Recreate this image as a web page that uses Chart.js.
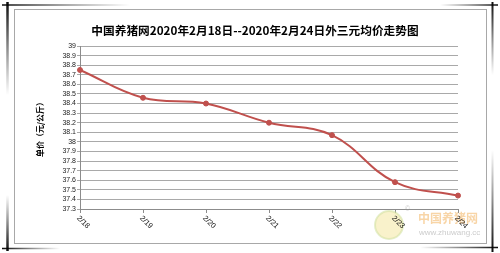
<!DOCTYPE html>
<html>
<head>
<meta charset="utf-8">
<script src="https://cdn.jsdelivr.net/npm/chart.js@4/dist/chart.umd.min.js"></script>
<style>
  html, body { margin: 0; padding: 0; background: #fff; }
  #wrap { width: 500px; height: 253px; }
</style>
</head>
<body>
<div id="wrap"><canvas id="priceChart" width="500" height="253"></canvas></div>
<script>
// data
const dates = ['2/18', '2/19', '2/20', '2/21', '2/22', '2/23', '2/24'];
const prices = [38.75, 38.46, 38.40, 38.20, 38.07, 37.58, 37.44];
const yMin = 37.3;
const yMax = 39;
const yStep = 0.1;

const chartTitle = '中国养猪网2020年2月18日--2020年2月24日外三元均价走势图';
const yTitle = '单价（元/公斤）';

const lineRed = '#C0504D';

// picture frame + inner box + title, drawn behind the chart
const framePlugin = {
    id: 'frame',
    beforeDraw(chart) {
        const ctx = chart.ctx;
        ctx.save();
        ctx.fillStyle = '#fff';
        ctx.fillRect(0, 0, chart.width, chart.height);

        // inner chart box
        ctx.strokeStyle = '#a8a8a8';
        ctx.lineWidth = 1;
        ctx.strokeRect(14.5, 9.5, 472, 234);

        const fade = (x1, y1, x2, y2, w) => {
            const g = ctx.createLinearGradient(x1, y1, x2, y2);
            g.addColorStop(0, 'rgba(0,0,0,0.95)');
            g.addColorStop(0.5, 'rgba(0,0,0,0.45)');
            g.addColorStop(1, 'rgba(0,0,0,0)');
            ctx.strokeStyle = g;
            ctx.lineWidth = w;
            ctx.beginPath();
            ctx.moveTo(x1, y1);
            ctx.lineTo(x2, y2);
            ctx.stroke();
        };
        // top-left corner
        fade(2, 5, 130, 5, 1.5);
        fade(7.5, 2, 7.5, 95, 2.5);
        // bottom-left corner
        fade(2, 248.5, 60, 248.5, 1.5);
        fade(7.5, 251, 7.5, 195, 2.5);
        // top-right corner
        fade(498, 5, 440, 5, 1.5);
        fade(492.5, 2, 492.5, 75, 2);
        // bottom-right corner
        fade(498, 247.5, 420, 247.5, 1.5);
        fade(492.5, 252, 492.5, 150, 2);

        // title, centred on the box
        ctx.fillStyle = '#000';
        ctx.font = 'bold 11.7px "Noto Sans CJK SC"';
        ctx.textAlign = 'center';
        ctx.textBaseline = 'middle';
        ctx.fillText(chartTitle, 255, 31);
        ctx.restore();
    }
};

// watermark and slanted date labels
const labelPlugin = {
    id: 'slantLabels',
    afterDraw(chart) {
        const ctx = chart.ctx;
        const xs = chart.scales.x;
        ctx.save();

        // watermark
        ctx.globalAlpha = 0.55;
        ctx.fillStyle = '#f4e7a0';
        ctx.strokeStyle = '#cfe0a0';
        ctx.lineWidth = 2;
        ctx.beginPath();
        ctx.arc(389, 225, 14, 0, Math.PI * 2);
        ctx.fill();
        ctx.stroke();
        ctx.fillStyle = '#f2b35e';
        ctx.font = 'bold 12px "Noto Sans CJK SC"';
        ctx.textBaseline = 'middle';
        ctx.textAlign = 'left';
        ctx.fillText('中国养猪网', 418, 218);
        ctx.fillStyle = '#a0a0a0';
        ctx.font = '8px "Liberation Sans"';
        ctx.fillText('www.zhuwang.cc', 419, 233);
        ctx.font = '7px "Liberation Sans"';
        ctx.fillText('©', 405, 209);
        ctx.globalAlpha = 1;

        // date labels, rotated down to the right
        ctx.fillStyle = '#111';
        ctx.font = '7.5px "Liberation Sans"';
        ctx.textAlign = 'left';
        ctx.textBaseline = 'middle';
        dates.forEach((d, i) => {
            const x = xs.getPixelForTick(i);
            ctx.save();
            ctx.translate(x - 2, xs.top + 8);
            ctx.rotate(Math.PI / 4);
            ctx.fillText(d, 0, 0);
            ctx.restore();
        });
        ctx.restore();
    }
};

new Chart(document.getElementById('priceChart'), {
    type: 'line',
    data: {
        labels: dates,
        datasets: [{
            label: '外三元均价',
            data: prices,
            borderColor: lineRed,
            backgroundColor: lineRed,
            borderWidth: 2,
            tension: 0.4,
            pointStyle: 'circle',
            pointRadius: 2.5,
            pointBorderWidth: 1,
            fill: false
        }]
    },
    options: {
        responsive: false,
        animation: false,
        layout: {
            padding: { left: 0, right: 42, top: 46, bottom: 0 }
        },
        plugins: {
            legend: { display: false },
            tooltip: { enabled: false },
            title: { display: false }
        },
        scales: {
            x: {
                offset: false,
                grid: {
                    display: true,
                    drawOnChartArea: false,
                    drawTicks: true,
                    tickLength: 4,
                    color: '#8c8c8c'
                },
                border: { color: '#8c8c8c' },
                ticks: { display: false },
                afterFit(scale) { scale.height = 44; }
            },
            y: {
                min: yMin,
                max: yMax,
                grid: {
                    color: '#a9a9a9',
                    tickLength: 3
                },
                border: { color: '#8c8c8c' },
                ticks: {
                    stepSize: yStep,
                    maxTicksLimit: 30,
                    autoSkip: false,
                    padding: 1,
                    color: '#222',
                    font: { family: '"Liberation Sans"', size: 7 },
                    callback: v => String(Number(v.toFixed(1)))
                },
                title: {
                    display: true,
                    text: yTitle,
                    color: '#000',
                    font: { family: '"Noto Sans CJK SC"', size: 8, weight: 'bold' },
                    padding: { top: 35, bottom: 0 }
                },
                afterFit(scale) { scale.width = 80; }
            }
        }
    },
    plugins: [framePlugin, labelPlugin]
});
</script>
</body>
</html>
